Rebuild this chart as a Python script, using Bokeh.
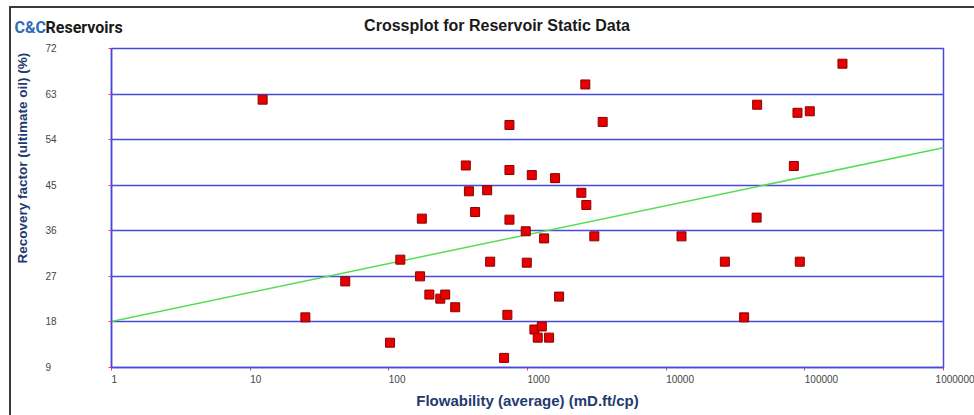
import math
from bokeh.plotting import figure
from bokeh.models import Label, Title, FixedTicker, CustomJSTickFormatter
from bokeh.embed import file_html
from bokeh.resources import INLINE

# ---- data ----
flowability = [12.3, 25.0, 48.5, 102, 121, 168, 173, 196, 235, 255, 301,
               359, 378, 419, 512, 538, 678, 716, 741, 741, 741, 971, 988,
               1074, 1122, 1268, 1185, 1318, 1431, 1581, 1690, 2445, 2612,
               2656, 3034, 3485, 12900, 26500, 36500, 44900, 45300, 83300,
               88500, 92000, 108600, 186800]
recovery = [61.9, 18.9, 26.0, 13.9, 30.3, 27.0, 38.4, 23.4, 22.6, 23.4, 20.9,
            48.9, 43.8, 39.7, 44.0, 29.9, 10.9, 19.4, 56.9, 48.0, 38.2, 35.9,
            29.7, 47.0, 16.5, 17.1, 14.9, 34.5, 14.9, 46.4, 23.0, 43.5, 64.9,
            41.1, 34.9, 57.5, 34.9, 29.9, 18.9, 38.6, 60.9, 48.8, 59.3, 29.9,
            59.6, 69.0]
trend_flow = [1, 1000000]
trend_recovery = [18.1, 52.4]

x_ticks = [1, 10, 100, 1000, 10000, 100000, 1000000]
x_tick_labels = ["1", "10", "100", "1000", "10000", "100000", "1000000"]
y_ticks = [9, 18, 27, 36, 45, 54, 63, 72]
y_tick_labels = ["9", "18", "27", "36", "45", "54", "63", "72"]

title_text = "Crossplot for Reservoir Static Data"
x_title = "Flowability (average) (mD.ft/cp)"
y_title = "Recovery factor (ultimate oil) (%)"
logo_a, logo_b = "C&C", "Reservoirs"

# ---- layout ----
W, H = 974, 415
FL, FT, FR, FB = 111, 48, 30, 48
FW = W - FL - FR
FH = H - FT - FB
X0, X1 = 1, 1e6
Y0, Y1 = 9, 72

def xd(cx):
    return 10 ** (math.log10(X0) + (cx - FL) / FW * (math.log10(X1) - math.log10(X0)))

def yd(cy):
    return Y1 - (cy - FT) / FH * (Y1 - Y0)

BLUE = "#4848DC"
NAVY = "#1F3A70"
FONT = "Liberation Sans"
NB = "\u00a0"

p = figure(width=W, height=H, x_axis_type="log", x_range=(X0, X1), y_range=(Y0, Y1),
           min_border_left=FL, min_border_right=FR, min_border_top=FT, min_border_bottom=FB,
           toolbar_location=None, tools="", output_backend="svg")
p.background_fill_color = "white"
p.border_fill_alpha = 0
p.styles = {
    "background": "linear-gradient(#3a3a3a, #3a3a3a) 9px 6px / 970px 2px no-repeat, "
                  "linear-gradient(#3a3a3a, #3a3a3a) 9px 6px / 2px 420px no-repeat, white"
}
p.outline_line_color = BLUE
p.outline_line_width = 1.5

# x labels start at their tick (no-break spaces shift the centred text)
x_lab = [NB * (2 * len(s)) + s for s in x_tick_labels]
# y labels left aligned
y_lab = [s + NB * (2 * (2 - len(s))) for s in y_tick_labels]

p.xaxis.formatter = CustomJSTickFormatter(args=dict(t=x_ticks, l=x_lab),
                                          code="const i = t.indexOf(tick); return i >= 0 ? l[i] : ''")
p.yaxis.formatter = CustomJSTickFormatter(args=dict(t=y_ticks, l=y_lab),
                                          code="const i = t.indexOf(tick); return i >= 0 ? l[i] : ''")

for ax, ticks in ((p.xaxis, x_ticks), (p.yaxis, y_ticks)):
    ax.ticker = FixedTicker(ticks=ticks)
    ax.axis_line_color = BLUE
    ax.axis_line_width = 1.5
    ax.major_tick_line_color = "#E04040"
    ax.major_tick_line_width = 1
    ax.major_tick_in = 0
    ax.major_tick_out = 3
    ax.minor_tick_line_color = None
    ax.major_label_text_font = FONT
    ax.major_label_text_font_size = "10px"
    ax.major_label_text_color = "#444444"

p.yaxis.major_label_standoff = 52
p.xaxis.major_label_standoff = 3
p.xaxis.axis_label = x_title
p.xaxis.axis_label_standoff = 4
p.xaxis.axis_label_text_font = FONT
p.xaxis.axis_label_text_font_size = "15px"
p.xaxis.axis_label_text_font_style = "bold"
p.xaxis.axis_label_text_color = NAVY

p.xgrid.visible = False
p.ygrid.ticker = FixedTicker(ticks=y_ticks)
p.ygrid.grid_line_color = BLUE
p.ygrid.grid_line_width = 1.5

p.line(trend_flow, trend_recovery, line_color="#55DD55", line_width=1.5)
p.scatter(flowability, recovery, marker="square", size=9,
          fill_color="#E80000", line_color="#8A0000", line_width=1)

# y axis title (placed higher than centre, as in the reference)
p.add_layout(Title(text=y_title, align="left", offset=104, standoff=25, text_font=FONT,
                   text_font_size="13.5px", text_font_style="bold", text_color=NAVY), "left")

# chart title and logo (in side panels so that they are not clipped to the frame)
p.add_layout(Label(x=xd(497), y=yd(25), text=title_text, text_align="center",
                   text_baseline="middle", text_font=FONT, text_font_size="16px",
                   text_font_style="bold", text_color="#1a1a1a"), "above")
p.add_layout(Label(x=xd(45), y=yd(27), text=logo_b, text_align="left", text_baseline="middle",
                   text_font="Roboto", text_font_size="16px",
                   text_font_style="bold", text_color="#1a1a1a"), "above")
p.add_layout(Label(x=xd(14), y=yd(27), text=logo_a, text_align="left", text_baseline="middle",
                   text_font="Roboto", text_font_size="16px",
                   text_font_style="bold", text_color="#2F6CB8"), "right")

open("out.html", "w").write(file_html(p, INLINE))
